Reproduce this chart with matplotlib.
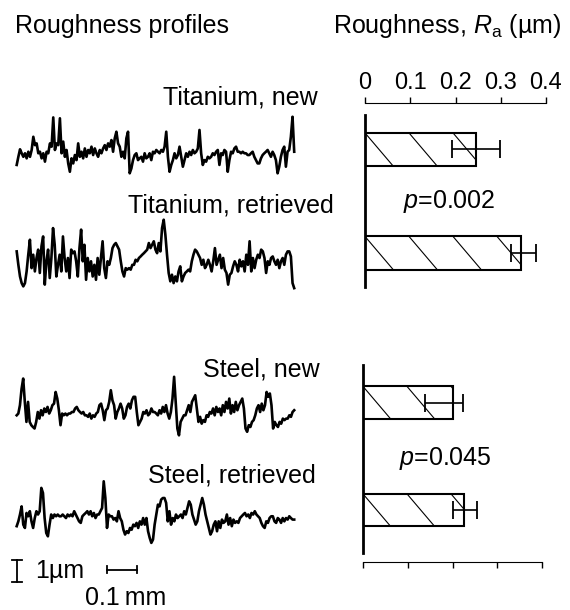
import numpy as np
import matplotlib
matplotlib.use("Agg")
import matplotlib.pyplot as plt
from matplotlib.lines import Line2D
from matplotlib.transforms import IdentityTransform

plt.rcParams['font.family'] = ['Liberation Sans', 'DejaVu Sans']
plt.rcParams['mathtext.fontset'] = 'custom'
plt.rcParams['mathtext.rm'] = 'Liberation Sans'
plt.rcParams['mathtext.it'] = 'Liberation Sans:italic'

# roughness profiles, height in um, sampled evenly along 0.925 mm
profile_len = 0.925
ti_new = [0.08, 0.45, 0.79, 0.61, 0.45, 0.61, 0.38, 0.68, 0.45, 0.76, 1.36,
          0.98, 1.06, 0.61, 0.68, 0.38, 0.61, 0.23, 0.68, 0.61, 1.06, 0.91, 2.24,
          0.76, 1.06, 0.98, 2.2, 0.61, 1.14, 0.45, 0.76, 0.15, -0.23, 0.38, 0.15,
          0.53, 0.30, 1.06, 0.45, 0.68, 0.38, 0.83, 0.45, 0.76, 0.61, 0.91, 0.53,
          0.83, 0.61, 0.45, 0.76, 0.61, 0.83, 0.98, 0.76, 1.06, 0.91, 1.21, 0.68,
          1.29, 1.59, 1.06, 0.91, 0.45, 0.68, 0.38, 1.29, 1.59, -0.30, -0.08, 0.30,
          0.53, 0.61, 0.30, 0.38, 0.45, 0.23, 0.61, 0.38, 0.45, 0.61, 0.30, 0.68,
          0.61, 0.76,
          0.68, 0.61, 0.76, 0.68, 0.91, 1.59, 0.45, -0.23, 0.08, 0.30,
          0.61, 0.38, 0.53, 0.91, 0.45, 0, 0.30, 0.61, 0.45, 0.68,
          0.53, 0.76, 0.61, 0.68, 0.83, 1.67, 0.61, 0.08, 0.30, 0.23,
          0.45, 0.38, 0.45, 0.61, 0.53, 0.68, 0.76, 0.08, 0.61, 0.53,
          0.76, 0.68, -0.23, 0.30, 0.68, 0.61, 0.83, 0.91, 0.68, 0.68,
          0.61, 0.68, 0.61, 0.61, 0.53, 0.53, 0.61, 0.68, 0.45, 0.30,
          0.15, 0.15, 0.38, 0.53, 0.61, 0.68, 0.76, 0.61, 0.45, 0.68,
          0.53, 0.30, -0.30, 0, 0.45, 0.76, 0.91, 0, 0.68, 0.76,
          1.36, 2.27, 0.68]
ti_retrieved = [1.06, 0.45, -0.08, -0.38, -0.53, -0.38, 0.15, 0.91, 1.59,
                0.30, 0.91, 0.15, 0.76, 1.14, 0.08, 1.29, 1.74, -0.45, 0.61,
                1.14, -0.15, 0.76, 2.12, 1.36, -0.08, 0.45, 0.91, 0.15, 1.74,
                0.76, 0.15, 0.76, -0.15, 1.14, 0.98, 1.06, 0.61, -0.08, 1.21,
                2.05, 0.61, 1.36, -0.23, 0.76, 0.15, 0.61, -0.08, 0.45, -0.23,
                0.76, 0, 0.76, 1.52, 0.30, -0.15, 0.61, 0.45, 0.76, 1.21,
                1.36, 1.44, 1.29, 1.14, 0.61, 0.15, -0.08, 0.30, 0.23, 0.30,
                0.23, 0.45, 0.45, 0.68, 0.61, 0.76, 0.83, 0.91, 0.98, 1.06,
                1.14, 1.44, 1.21, 1.36, 1.52, 1.14,
                0.98, 1.44, 1.06, 2.12, 2.5, 1.82, 0.91, 0.08, -0.30, 0,
                -0.38, -0.08, -0.30, 0.15, 0.38, -0.30, -0.08, 0.08, 0.15, 0.23,
                0.15, 0.61, 0.91, 1.14, 1.06, 0.91, 0.76, 0.45, 0.68, 0.30,
                0.45, 0.68, 0.45, 0.15, 0.61, 1.21, 0.45, 0.68, 0.91, 0.30,
                0.76, 0.23, 0.08, -0.45, 0, 0.08, 0.38, 0.61, 0.45, 0.15,
                0.68, 0.38, 0.61, 0.15, 0.91, 0.45, 1.52, 0.15, 0.76, 0.30,
                0.68, 0.91, 0.76, 1.14, 1.06, 0.76, 0.08, 0.61, 0.45, 0.76,
                0.83, 0.61, 0.45, 0.68, 0.30, 0.61, 0.76, 0.45, 0.91, 1.06,
                1.06, 0.83, -0.38, -0.61]
steel_new = [0.30, 0.38, 0.76, 1.5, 1.97, 0.91, 0, 0.91, 0, -0.15,
             -0.23, -0.30, 0, 0.45, 0.15, 0.53, 0.30, 0.61, 0.45, 0.68,
             0.38, 0.53, 0.76, 0.83, 1.36, 1.06, 0.53, -0.15, 0.38, 0.30,
             0.38, 0.30, 0.38, 0.38, 0.45, 0.45, 0.61, 0.68, 0.53, 0.45,
             0.38, 0.45, 0.30, 0.30, 0.23, 0.38, 0.15, 0.30, 0.23, 0.38,
             0.45, 0.76, 0.83, 0.53, 0.08, 0.53, 0.61, 0.91, 1.44, 0.98,
             0.76, 0.15, 0.45, 0.61, 0.83, 0.61, 0.15, 0.30, 0.68, 0.83,
             0.61, 0.98, 1.14, 1.14, 0.45, -0.15, 0, 0.15, 0.45, 0.38,
             0.53, 0.30, 0.38, 0.61, 0.45, 0.45, 0.38,
             0.30, 0.53, 0.38, 0.68, 0.45, 0.76, 0.38, 0.15, 0.45, 1.06,
             2.05, 0.91, -0.30, -0.61, 0, 0.15, 0.30, 0.30, 0.53, 0.76,
             0.45, 0.91, 1.06, 1.21, 0.61, 0, 0.23, -0.08, 0.08, 0,
             0.30, 0.23, 0.45, 0.38, 0.61, 0.30, 0.68, 0.45, 0.61, 0.30,
             0.76, 0.45, 0.91, 0.61, 1.06, 0.38, 0.76, 0.45, 0.91, 0.53,
             0.76, 0.91, 1.06, 0.61, -0.30, -0.45, -0.15, -0.23, 0, 0.08,
             0.30, 0.61, 0.76, 0.45, 0.83, 0.53, 0.76, 1.36, 1.14, 1.29,
             0.76, -0.30, 0, -0.15, -0.23, 0, -0.08, 0.15, 0.08, 0.15,
             0.15, 0.30, 0.23, 0.45, 0.53]
steel_retrieved = [0.08, 0.30, 0.61, 0.98, 0.15, 0, 0.68, 0.53, 0.76, 0.30,
                   0, 0.45, 0.76, 0.61, 0.76, 1.82, 1.59, 0.45, -0.23, -0.38,
                   0.15, 0.61, 0.45, 0.61, 0.53, 0.61, 0.53, 0.53, 0.61, 0.53,
                   0.45, 0.61, 0.53, 0.61, 0.53, 0.76, 0.61, 0.45, 0.30, 0.23,
                   0.53, 0.61, 0.68, 0.76, 0.61, 0.76, 0.53, 0.68, 0.45, 0.61,
                   0.61, 0.76, 0.91, 2.12, 1.36, 0, 0.61, 0.53, 0.53, 0.38,
                   0.45, 0.30, 0.76, 0.45, 0.30, -0.08, -0.30, -0.15, -0.23, 0,
                   -0.08, 0.15, 0.08, 0.23, 0, 0.30, 0.15, 0.45, 0.15, 0.45,
                   -0.15, -0.45, -0.68, -0.53, 0.15, 0.61, 1.06,
                   0.98, 1.29, 1.36, 1.36, 1.14, 0.30, 0.76, 0.15, 0.45, 0.30,
                   0.61, 0.45, 0.53, 0.61, 0.45, 0.76, 0.61, 0.91, 1.21, 1.06,
                   0.61, 0.38, 0.15, 0.30, 0.76, 1.06, 1.36, 1.06, 0.61, 0.30,
                   0, -0.30, -0.15, 0.15, 0.30, -0.15, 0.30, 0, 0.38, 0.23,
                   0.30, 0.61, 0.15, 0.45, 0.08, 0.38, 0.23, 0.30, 0.23, 0.45,
                   0.53, 0.61, 0.68, 0.53, 0.61, 0.45, 0.68, 0.61, 0.76, 0.61,
                   0.53, 0.45, 0.23, 0.08, 0, 0.30, 0.23, 0.45, 0.53, 0.53,
                   0.30, 0.23, 0.45, 0.38, 0.23, 0.45, 0.30, 0.45, 0.38, 0.53,
                   0.45, 0.38, 0.38]
profile_names = ["Titanium, new", "Titanium, retrieved", "Steel, new", "Steel, retrieved"]

# mean roughness Ra (um) with lower / upper error
ti_ra = [0.245, 0.345]
ti_err_lo = [0.053, 0.022]
ti_err_hi = [0.053, 0.033]
steel_ra = [0.20, 0.226]
steel_err_lo = [0.061, 0.025]
steel_err_hi = [0.023, 0.029]
p_values = ["0.002", "0.045"]
ra_ticks = [0, 0.1, 0.2, 0.3, 0.4]
ra_ticklabels = ["0", "0.1", "0.2", "0.3", "0.4"]

W, H = 570, 610


def fx(px):
    return px / W


def fy(py):
    return 1 - py / H


def add_hatch(ax, bars, step=44, slope=0.85):
    # sparse diagonal hatching like the printed figure, cut at the bar edge
    for b in bars:
        x0, y0 = ax.transData.transform((b.get_x(), b.get_y()))
        x1, y1 = ax.transData.transform((b.get_x() + b.get_width(),
                                         b.get_y() + b.get_height()))
        for xs in np.arange(x0, x1, step):
            xe, ye = xs + slope * (y1 - y0), y0
            if xe > x1:
                xe, ye = x1, y1 - (x1 - xs) / slope
            ln = Line2D([xs, xe], [y1, ye], transform=IdentityTransform(),
                        color="black", lw=0.8, zorder=1.5)
            ax.add_artist(ln)


def main():
    fig = plt.figure(figsize=(W / 100, H / 100), dpi=100)

    # left: profiles, 0.1 mm = 30 px, 1 um = 22 px
    ax_p = fig.add_axes([0, 0, 340 / W, 1])
    ax_p.set_xlim(-16.7 / 300, (340 - 16.7) / 300)
    ax_p.set_ylim(0, H / 22)
    ax_p.axis("off")

    profiles = [ti_new, ti_retrieved, steel_new, steel_retrieved]
    offsets = [20.15, 15.24, 8.55, 3.73]
    for prof, off in zip(profiles, offsets):
        x = np.linspace(0, profile_len, len(prof))
        ax_p.plot(x, np.array(prof) + off, color="black", lw=1.9)

    # scale bars
    sx, sy = 0.001, 1.27
    ax_p.plot([sx, sx], [sy, sy + 1], color="black", lw=1.3)
    ax_p.plot([sx - 0.016, sx + 0.016], [sy, sy], color="black", lw=1.3)
    ax_p.plot([sx - 0.016, sx + 0.016], [sy + 1, sy + 1], color="black", lw=1.3)
    hx, hy = 0.301, 1.82
    ax_p.plot([hx, hx + 0.1], [hy, hy], color="black", lw=1.3)
    ax_p.plot([hx, hx], [hy - 0.16, hy + 0.16], color="black", lw=1.3)
    ax_p.plot([hx + 0.1, hx + 0.1], [hy - 0.16, hy + 0.16], color="black", lw=1.3)

    fs = 18
    fig.text(fx(15), fy(33), "Roughness profiles", fontsize=fs, va="baseline")
    fig.text(fx(333), fy(33), r"Roughness, $R_{\mathrm{a}}$ (µm)", fontsize=fs,
             va="baseline")
    label_pos = [(163, 105), (128, 212), (203, 377), (148, 482)]
    for name, (px, py) in zip(profile_names, label_pos):
        fig.text(fx(px), fy(py), name, fontsize=fs, va="baseline")
    fig.text(fx(35), fy(578), "1µm", fontsize=fs, va="baseline")
    fig.text(fx(85), fy(605), "0.1\u2009mm", fontsize=fs, va="baseline")

    # right top: titanium bars
    ax1 = fig.add_axes([fx(365), fy(287), 181 / W, 172 / H])
    ax1.set_xlim(0, 0.4)
    ax1.set_ylim(-0.3285, 1.333)
    bars1 = ax1.barh([1, 0], ti_ra, height=0.32, color="white",
                     edgecolor="black", linewidth=1.5, zorder=1)
    ax1.errorbar(ti_ra, [1, 0], xerr=[ti_err_lo, ti_err_hi], fmt="none",
                 ecolor="black", elinewidth=1.2, capsize=6.5, capthick=1.3,
                 zorder=3)
    add_hatch(ax1, bars1)
    ax1.xaxis.tick_top()
    ax1.set_xticks(ra_ticks)
    ax1.set_xticklabels(ra_ticklabels)
    ax1.tick_params(axis="x", direction="out", length=4.3, width=1, pad=2,
                    labelsize=17)
    ax1.set_yticks([])
    ax1.spines["right"].set_visible(False)
    ax1.spines["bottom"].set_visible(False)
    ax1.spines["left"].set_linewidth(2)
    ax1.spines["top"].set_position(("outward", 8.6))
    ax1.patch.set_visible(False)

    # right bottom: steel bars
    ax2 = fig.add_axes([fx(363), fy(553), 179 / W, 188 / H])
    ax2.set_xlim(0, 0.4)
    ax2.set_ylim(-0.4, 1.349)
    bars2 = ax2.barh([1, 0], steel_ra, height=0.30, color="white",
                     edgecolor="black", linewidth=1.5, zorder=1)
    ax2.errorbar(steel_ra, [1, 0], xerr=[steel_err_lo, steel_err_hi], fmt="none",
                 ecolor="black", elinewidth=1.2, capsize=6.5, capthick=1.3,
                 zorder=3)
    add_hatch(ax2, bars2)
    ax2.set_xticks(ra_ticks)
    ax2.tick_params(axis="x", direction="out", length=4.3, width=1,
                    labelbottom=False)
    ax2.set_yticks([])
    ax2.spines["right"].set_visible(False)
    ax2.spines["top"].set_visible(False)
    ax2.spines["left"].set_linewidth(2)
    ax2.spines["bottom"].set_position(("outward", 6.5))
    ax2.patch.set_visible(False)

    fig.text(fx(449), fy(208), r"$p$=" + p_values[0], fontsize=fs, ha="center",
             va="baseline")
    fig.text(fx(445), fy(465), r"$p$=" + p_values[1], fontsize=fs, ha="center",
             va="baseline")

    fig.savefig("out.png", dpi=100)


if __name__ == "__main__":
    main()
